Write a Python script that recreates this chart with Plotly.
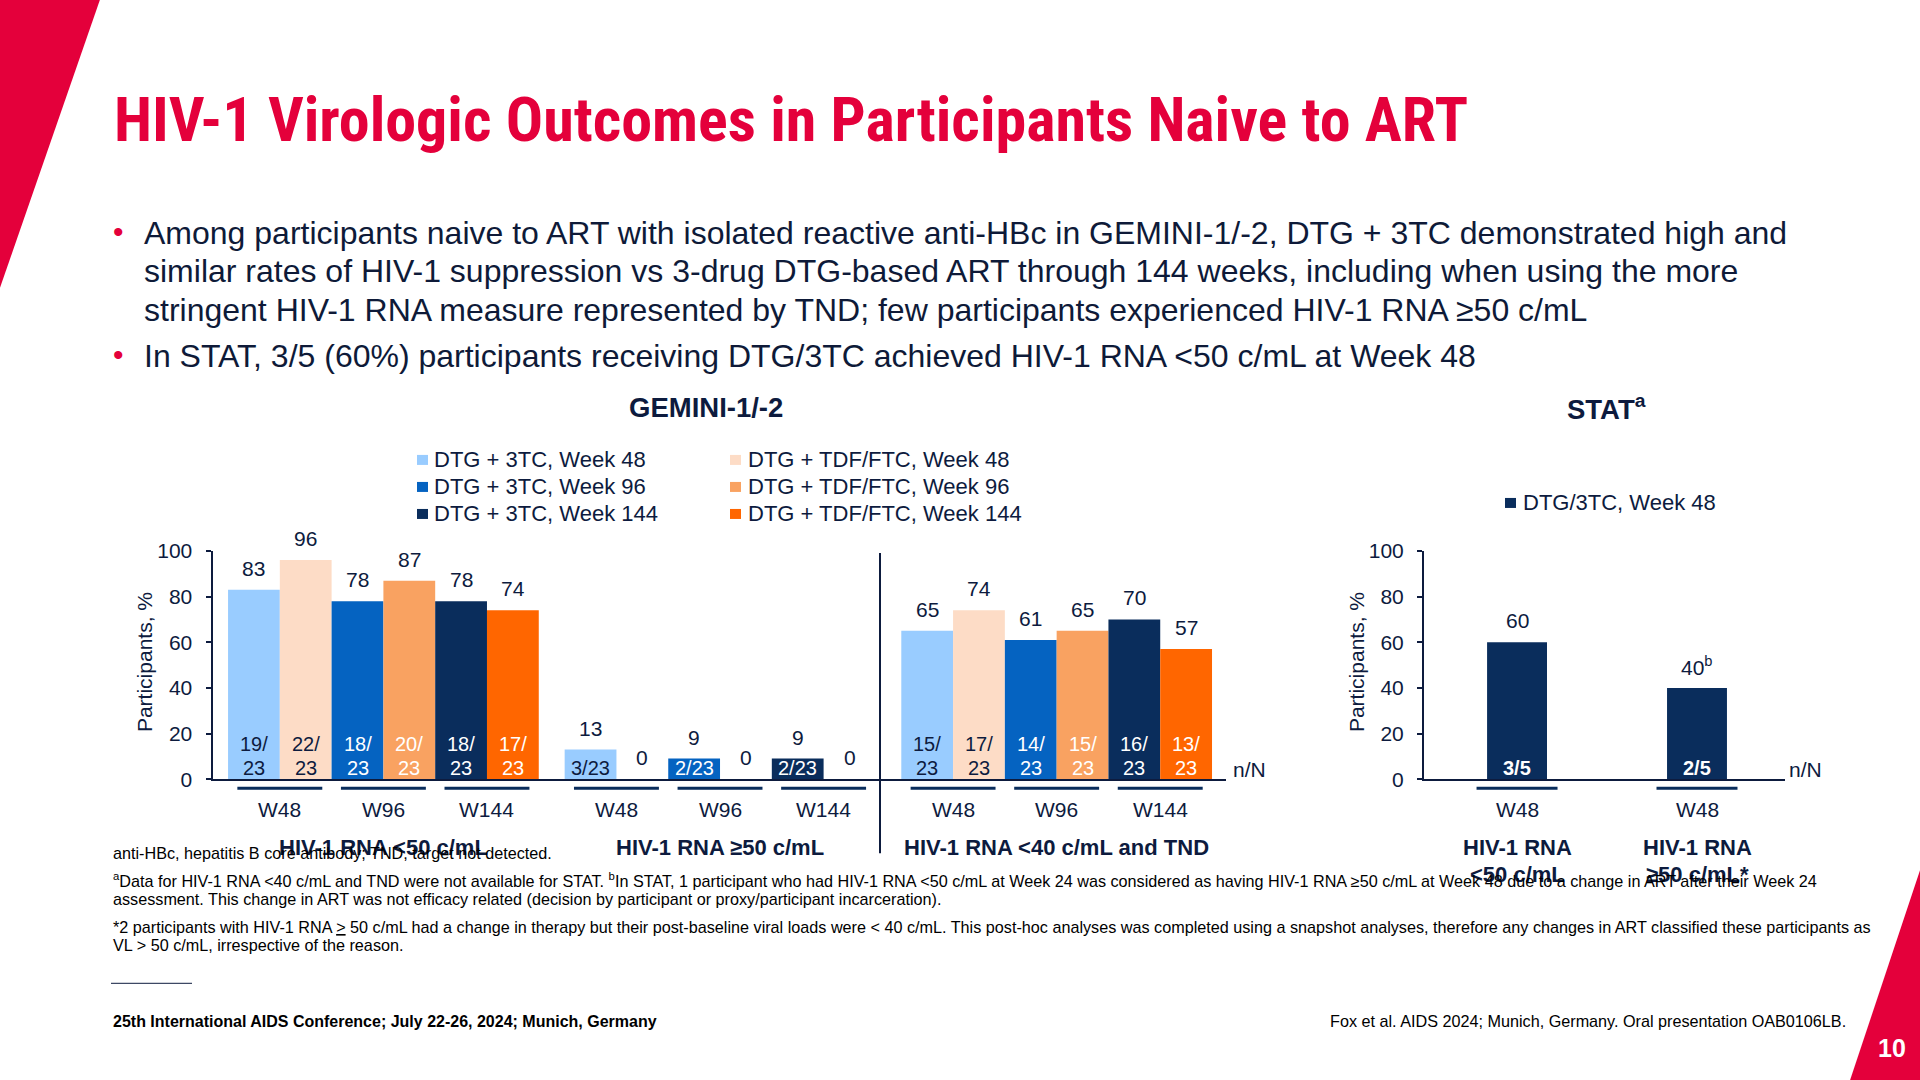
import plotly.graph_objects as go

# ---------------- data ----------------
GEM_GROUPS = ["HIV-1 RNA <50 c/mL", "HIV-1 RNA ≥50 c/mL", "HIV-1 RNA <40 c/mL and TND"]
WEEKS = ["W48", "W96", "W144"]
SERIES = ["DTG + 3TC, Week 48", "DTG + TDF/FTC, Week 48",
          "DTG + 3TC, Week 96", "DTG + TDF/FTC, Week 96",
          "DTG + 3TC, Week 144", "DTG + TDF/FTC, Week 144"]
dtg3tc_w48 = [83, 13, 65]
tdf_w48 = [96, 0, 74]
dtg3tc_w96 = [78, 9, 61]
tdf_w96 = [87, 0, 65]
dtg3tc_w144 = [78, 9, 70]
tdf_w144 = [74, 0, 57]
n_dtg3tc_w48 = [19, 3, 15]
n_tdf_w48 = [22, 0, 17]
n_dtg3tc_w96 = [18, 2, 14]
n_tdf_w96 = [20, 0, 15]
n_dtg3tc_w144 = [18, 2, 16]
n_tdf_w144 = [17, 0, 13]
N_GEM = 23

STAT_GROUPS = [["HIV-1 RNA", "<50 c/mL"], ["HIV-1 RNA", "≥50 c/mL*"]]
STAT_WEEKS = ["W48", "W48"]
STAT_SERIES = "DTG/3TC, Week 48"
stat_pct = [60, 40]
stat_n = [3, 2]
STAT_N = 5
stat_sup = ["", "b"]

GEM_PCT = [dtg3tc_w48, tdf_w48, dtg3tc_w96, tdf_w96, dtg3tc_w144, tdf_w144]
GEM_N = [n_dtg3tc_w48, n_tdf_w48, n_dtg3tc_w96, n_tdf_w96, n_dtg3tc_w144, n_tdf_w144]

# ---------------- style ----------------
W, H = 1920, 1080
# the photographed page shows the figure slightly letterboxed vertically;
# positions below are given in photo pixels and mapped back here
PHOTO_TOP, PHOTO_SCALE = 12.4, 0.978
FONT = "Liberation Sans, Arial, sans-serif"
TITLE_FONT = "Roboto Condensed, Liberation Sans Narrow, Arial Narrow, Liberation Sans"
NAVY = "#0D1B3E"
RED = "#E4003B"
COLORS = ["#99CCFF", "#FDDCC6", "#0563C1", "#F9A261", "#0A2D5C", "#FF6600"]
INSIDE_COLORS = [NAVY, NAVY, "white", "white", "white", "white"]
STAT_COLOR = "#0A2D5C"
GROUP_STEP = 6.5


def px(x):
    return x / W


def py(y):
    return 1 - (y - PHOTO_TOP) / (PHOTO_SCALE * H)


def ys(v):
    return v / PHOTO_SCALE


def esc(s):
    return s.replace("<", "&lt;").replace(">", "&gt;")


fig = go.Figure()
ann = []
shapes = []


def text(x, y, s, size, color=NAVY, bold=False, xanchor="center", yanchor="middle",
         xref="paper", yref="paper", yshift=0, family=FONT, angle=0):
    ann.append(dict(x=x, y=y, xref=xref, yref=yref, text=(f"<b>{s}</b>" if bold else s),
                    showarrow=False, xanchor=xanchor, yanchor=yanchor, yshift=ys(yshift),
                    textangle=angle, font=dict(family=family, size=size, color=color)))


# ---------------- GEMINI bars ----------------
for i, name in enumerate(SERIES):
    xs = [g * GROUP_STEP + i + 0.5 for g in range(len(GEM_GROUPS))]
    fig.add_trace(go.Bar(x=xs, y=GEM_PCT[i], width=1.0, name=name,
                         marker=dict(color=COLORS[i], line=dict(width=0)),
                         xaxis="x", yaxis="y", showlegend=False,
                         hovertext=GEM_GROUPS, hoverinfo="name+y"))
    for g in range(len(GEM_GROUPS)):
        v = GEM_PCT[i][g]
        n = GEM_N[i][g]
        text(xs[g], v, str(v), 21, xref="x", yref="y", yshift=21)
        if g == 1:
            if n > 0:
                text(xs[g], 0, f"{n}/{N_GEM}", 20, color=INSIDE_COLORS[i], xref="x", yref="y", yshift=11)
        else:
            text(xs[g], 0, f"{n}/", 20, color=INSIDE_COLORS[i], xref="x", yref="y", yshift=34)
            text(xs[g], 0, f"{N_GEM}", 20, color=INSIDE_COLORS[i], xref="x", yref="y", yshift=11)

# week labels + underlines + group labels
for g, grp in enumerate(GEM_GROUPS):
    for k, wk in enumerate(WEEKS):
        cx = g * GROUP_STEP + 2 * k + 1
        shapes.append(dict(type="line", xref="x", yref="paper", x0=cx - 0.82, x1=cx + 0.82,
                           y0=py(788), y1=py(788), line=dict(color=STAT_COLOR, width=3)))
        text(cx, py(809), wk, 21, xref="x")
    text(g * GROUP_STEP + 3, py(847), esc(grp), 22, bold=True, xref="x")

# divider
shapes.append(dict(type="line", xref="paper", yref="paper", x0=px(880), x1=px(880),
                   y0=py(553), y1=py(853), line=dict(color=NAVY, width=2)))

# ---------------- STAT bars ----------------
fig.add_trace(go.Bar(x=[0, 1], y=stat_pct, width=0.333, name=STAT_SERIES,
                     marker=dict(color=STAT_COLOR, line=dict(width=0)),
                     xaxis="x2", yaxis="y2", showlegend=False, hoverinfo="name+y"))
for j, v in enumerate(stat_pct):
    lab = str(v) + (f"<sup>{stat_sup[j]}</sup>" if stat_sup[j] else "")
    text(j, v, lab, 21, xref="x2", yref="y2", yshift=21)
    text(j, 0, f"{stat_n[j]}/{STAT_N}", 20, color="white", bold=True, xref="x2", yref="y2", yshift=11)
    shapes.append(dict(type="line", xref="x2", yref="paper", x0=j - 0.225, x1=j + 0.225,
                       y0=py(788), y1=py(788), line=dict(color=STAT_COLOR, width=3)))
    text(j, py(809), STAT_WEEKS[j], 21, xref="x2")
    text(j, py(847), esc(STAT_GROUPS[j][0]), 22, bold=True, xref="x2")
    text(j, py(874), esc(STAT_GROUPS[j][1]), 22, bold=True, xref="x2")

# n/N labels
text(px(1231), py(769), "n/N", 21, xanchor="left")
text(px(1787), py(769), "n/N", 21, xanchor="left")

# y titles
text(px(144), py(662), "Participants, %", 21, angle=-90)
text(px(1356), py(662), "Participants, %", 21, angle=-90)

# ---------------- legends ----------------
for i, name in enumerate(SERIES):
    col, row = i % 2, i // 2
    sx = [417, 730][col]
    tx = [432, 746][col]
    cy = [460, 487, 514][row]
    shapes.append(dict(type="rect", xref="paper", yref="paper", x0=px(sx), x1=px(sx + 11),
                       y0=py(cy + 5), y1=py(cy - 5), fillcolor=COLORS[i], line=dict(width=0)))
    text(px(tx), py(cy), name, 22, xanchor="left")
shapes.append(dict(type="rect", xref="paper", yref="paper", x0=px(1505), x1=px(1516),
                   y0=py(508), y1=py(498), fillcolor=STAT_COLOR, line=dict(width=0)))
text(px(1521), py(503), STAT_SERIES, 22, xanchor="left")

# section titles
text(px(706), py(408), "GEMINI-1/-2", 27.5, bold=True)
text(px(1606), py(408), "STAT<sup>a</sup>", 27.5, bold=True)

# ---------------- slide text ----------------
text(px(112), py(120), "HIV-1 Virologic Outcomes in Participants Naive to ART", 62, color=RED,
     bold=True, xanchor="left", family=TITLE_FONT)

bullets = [
    (True, "Among participants naive to ART with isolated reactive anti-HBc in GEMINI-1/-2, DTG + 3TC demonstrated high and"),
    (False, "similar rates of HIV-1 suppression vs 3-drug DTG-based ART through 144 weeks, including when using the more"),
    (False, "stringent HIV-1 RNA measure represented by TND; few participants experienced HIV-1 RNA ≥50 c/mL"),
    (True, "In STAT, 3/5 (60%) participants receiving DTG/3TC achieved HIV-1 RNA <50 c/mL at Week 48"),
]
for (dot, line), cy in zip(bullets, [233, 271.5, 310, 356]):
    if dot:
        text(px(118), py(cy - 1), "•", 30, color=RED)
    text(px(142), py(cy), esc(line), 32, color="#0E1A38", xanchor="left")

foot = [
    (853, "anti-HBc, hepatitis B core antibody; TND, target not detected."),
    (880, "<sup>a</sup>Data for HIV-1 RNA &lt;40 c/mL and TND were not available for STAT. <sup>b</sup>In STAT, 1 participant who had HIV-1 RNA &lt;50 c/mL at Week 24 was considered as having HIV-1 RNA ≥50 c/mL at Week 48 due to a change in ART after their Week 24"),
    (899, "assessment. This change in ART was not efficacy related (decision by participant or proxy/participant incarceration)."),
    (927, "*2 participants with HIV-1 RNA <u>&gt;</u> 50 c/mL had a change in therapy but their post-baseline viral loads were &lt; 40 c/mL. This post-hoc analyses was completed using a snapshot analyses, therefore any changes in ART classified these participants as"),
    (945, "VL &gt; 50 c/mL, irrespective of the reason."),
]
for cy, s in foot:
    text(px(111), py(cy), s, 16.2, color="black", xanchor="left")

shapes.append(dict(type="line", xref="paper", yref="paper", x0=px(111), x1=px(192),
                   y0=py(983), y1=py(983), line=dict(color=NAVY, width=1)))
text(px(111), py(1021), "25th International AIDS Conference; July 22-26, 2024; Munich, Germany", 16,
     color="black", bold=True, xanchor="left")
text(px(1848), py(1021), "Fox et al. AIDS 2024; Munich, Germany. Oral presentation OAB0106LB.", 16.2,
     color="black", xanchor="right")

# decorative red corners
shapes.append(dict(type="path", xref="paper", yref="paper", layer="below",
                   path=f"M 0 {py(0)} L {px(100)} {py(0)} L 0 {py(288)} Z", fillcolor=RED, line=dict(width=0)))
shapes.append(dict(type="path", xref="paper", yref="paper", layer="below",
                   path=f"M 1 {py(870)} L 1 {py(1080)} L {px(1850)} {py(1080)} Z", fillcolor=RED, line=dict(width=0)))
text(px(1892), py(1048), "10", 25, color="white", bold=True)

# ---------------- axes ----------------
axis_common = dict(showgrid=False, zeroline=False, fixedrange=True)
yax = dict(range=[0, 100], tickvals=[0, 20, 40, 60, 80, 100], ticks="outside", ticklen=5,
           tickwidth=2, tickcolor=NAVY, showline=True, linecolor=NAVY, linewidth=2,
           tickfont=dict(family=FONT, size=21, color=NAVY), ticklabelstandoff=9,
           domain=[py(779), py(551)], **axis_common)
fig.update_layout(
    width=W, height=H, autosize=False, margin=dict(l=0, r=0, t=0, b=0, pad=0),
    paper_bgcolor="white", plot_bgcolor="rgba(0,0,0,0)",
    barmode="overlay", showlegend=False,
    font=dict(family=FONT, color=NAVY),
    xaxis=dict(domain=[px(212.5), px(1226)], range=[-0.3, 19.27], showticklabels=False, ticks="",
               showline=True, linecolor=NAVY, linewidth=2, anchor="y", **axis_common),
    yaxis=dict(anchor="x", **yax),
    xaxis2=dict(domain=[px(1424), px(1785)], range=[-0.517, 1.489], showticklabels=False, ticks="",
                showline=True, linecolor=NAVY, linewidth=2, anchor="y2", **axis_common),
    yaxis2=dict(anchor="x2", **yax),
    annotations=ann, shapes=shapes,
)

POST = ("document.documentElement.style.margin='0';document.documentElement.style.overflow='hidden';"
        "document.body.style.margin='0';document.body.style.padding='0';"
        "document.body.style.overflow='hidden';"
        "var d=document.querySelector('.plotly-graph-div');"
        "if(d){d.style.position='fixed';d.style.left='0px';d.style.top='0px';}")
fig.write_html("out.html", post_script=POST,
               config={"displayModeBar": False, "responsive": False})
